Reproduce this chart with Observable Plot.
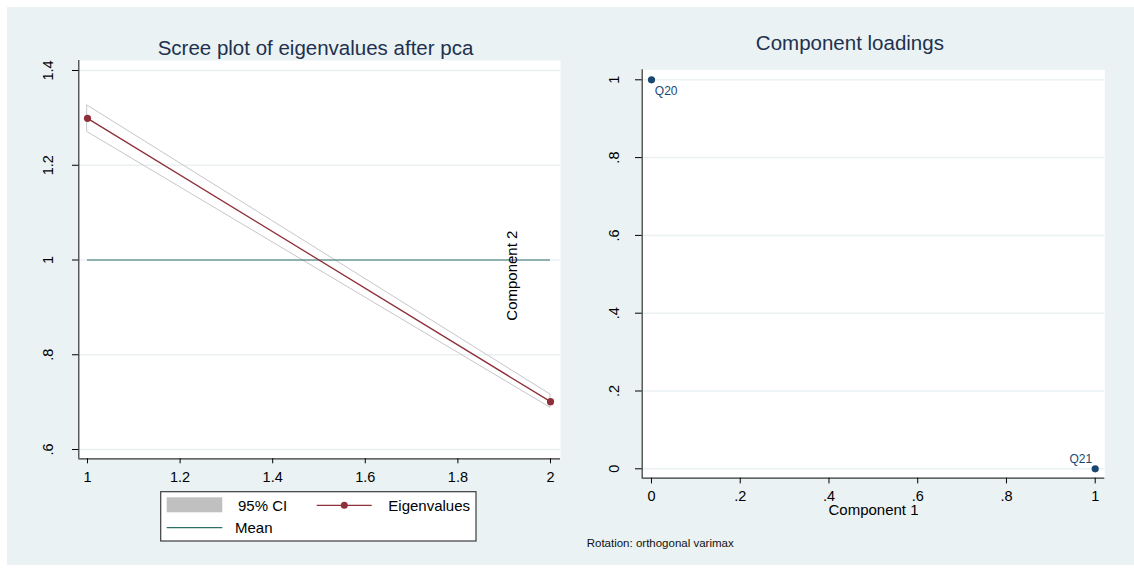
<!DOCTYPE html>
<html>
<head>
<meta charset="utf-8">
<script src="https://cdn.jsdelivr.net/npm/d3@7"></script>
<script src="https://cdn.jsdelivr.net/npm/@observablehq/plot@0.6"></script>
<style>
  html, body { margin: 0; padding: 0; background: #fff; }
  #chart { position: relative; width: 1134px; height: 570px; overflow: hidden;
           font-family: "Liberation Sans", Arial, sans-serif; }
  #panel { position: absolute; left: 7px; top: 7px; width: 1127px; height: 558px; background: #eaf2f3; }
  .abs { position: absolute; white-space: nowrap; line-height: 1; }
  .title { font-size: 20.5px; color: #22304f; transform: translateX(-50%); }
  .note { font-size: 11.5px; color: #111; }
</style>
</head>
<body>
<div id="chart">
  <div id="panel"></div>
  <div class="abs title" style="left:315.5px; top:37.6px;">Scree plot of eigenvalues after pca</div>
  <div class="abs title" style="left:849.9px; top:32.6px;">Component loadings</div>
  <div class="abs note" style="left:586.7px; top:537.7px;">Rotation: orthogonal varimax</div>
</div>
<script>
// ---- scree plot data ----
const components = [1, 2];
const eigenvalues = [1.299, 0.701];
const ciLower = [1.270, 0.688];
const ciUpper = [1.326, 0.716];
const screeXTicks = [1, 1.2, 1.4, 1.6, 1.8, 2];
const screeYTicks = [0.6, 0.8, 1, 1.2, 1.4];
const legendLabels = ["95% CI", "Eigenvalues", "Mean"];

// ---- loading plot data ----
const variables = ["Q20", "Q21"];
const loading1 = [0, 1];
const loading2 = [1, 0];
const loadTicks = [0, 0.2, 0.4, 0.6, 0.8, 1];

// ---- styling ----
const FONT = '"Liberation Sans", Arial, sans-serif';
const GRID = "#eaf1f3";
const AXIS = "#333";
const CI_STROKE = "#c6c6c6";
const CI_FILL = "#c0c0c0";
const EIG = "#8f2f3a";
const MEAN = "#2e6f68";
const NAVY = "#1a476f";

// Stata-style numbers: .8 instead of 0.8
const fmt = d => String(d).replace(/^0\./, ".");

const scree = components.map((c, i) => ({comp: c, eig: eigenvalues[i], lo: ciLower[i], hi: ciUpper[i]}));
const meanEig = d3.mean(eigenvalues);
const loadings = variables.map((v, i) => ({name: v, c1: loading1[i], c2: loading2[i]}));

const baseStyle = {background: "transparent", fontFamily: FONT, fontSize: "14.5px", color: "#000", overflow: "visible"};

// left: scree plot
const screeX = [0.98121, 2.02162];
const screeY = [0.58037, 1.42111];
const left = Plot.plot({
  width: 570, height: 490,
  marginLeft: 78.3, marginTop: 60, marginRight: 10, marginBottom: 31.7,
  style: baseStyle,
  x: {domain: screeX},
  y: {domain: screeY},
  marks: [
    Plot.frame({fill: "#fff", stroke: "none"}),
    Plot.gridY(screeYTicks, {stroke: GRID, strokeOpacity: 1, strokeWidth: 1.5}),
    Plot.areaY(scree, {x: "comp", y1: "lo", y2: "hi", fill: "none", stroke: CI_STROKE, strokeWidth: 1}),
    Plot.ruleY([meanEig], {x1: d3.min(components), x2: d3.max(components), stroke: MEAN, strokeWidth: 1.2}),
    Plot.lineY(scree, {x: "comp", y: "eig", stroke: EIG, strokeWidth: 1.3}),
    Plot.dot(scree, {x: "comp", y: "eig", r: 3.6, fill: EIG}),
    Plot.ruleX([screeX[0]], {stroke: AXIS, strokeWidth: 1.2}),
    Plot.ruleY([screeY[0]], {stroke: AXIS, strokeWidth: 1.2}),
    Plot.axisX(screeXTicks, {tickSize: 5, tickPadding: 8, tickFormat: fmt, label: null}),
    Plot.axisY(screeYTicks, {tickSize: 6.3, tickPadding: 20, tickRotate: -90, tickFormat: fmt, label: null}),
    Plot.text(["Component 2"], {text: d => d, frameAnchor: "right", textAnchor: "middle", lineAnchor: "middle",
      dx: -48, dy: 16, rotate: -90, fontSize: 15, fill: "#000"})
  ]
});
left.style.position = "absolute";
left.style.left = "0px";
left.style.top = "0px";
document.getElementById("chart").appendChild(left);

// right: component loadings
const loadX = [-0.02096, 1.02164];
const loadY = [-0.02416, 1.02571];
const right = Plot.plot({
  width: 564, height: 520,
  marginLeft: 71.7, marginTop: 69.3, marginRight: 29.7, marginBottom: 42.3,
  style: baseStyle,
  x: {domain: loadX},
  y: {domain: loadY},
  marks: [
    Plot.frame({fill: "#fff", stroke: "none"}),
    Plot.gridY(loadTicks, {stroke: GRID, strokeOpacity: 1, strokeWidth: 1.5}),
    Plot.ruleX([loadX[0]], {stroke: AXIS, strokeWidth: 1.2}),
    Plot.ruleY([loadY[0]], {stroke: AXIS, strokeWidth: 1.2}),
    Plot.dot(loadings, {x: "c1", y: "c2", r: 3.6, fill: NAVY}),
    Plot.text(loadings, {filter: d => d.name === variables[0], x: "c1", y: "c2", text: "name",
      textAnchor: "start", dx: 3.3, dy: 11.4, fill: NAVY, fontSize: 12}),
    Plot.text(loadings, {filter: d => d.name === variables[1], x: "c1", y: "c2", text: "name",
      textAnchor: "end", dx: -3, dy: -9.3, fill: NAVY, fontSize: 12}),
    Plot.axisX(loadTicks, {tickSize: 5.7, tickPadding: 6.4, tickFormat: fmt, label: null}),
    Plot.axisY(loadTicks, {tickSize: 6.7, tickPadding: 17, tickRotate: -90, tickFormat: fmt, label: null}),
    Plot.text(["Component 1"], {text: d => d, frameAnchor: "bottom", textAnchor: "middle", lineAnchor: "middle",
      dy: 31.6, fontSize: 15, fill: "#000"})
  ]
});
right.style.position = "absolute";
right.style.left = "570px";
right.style.top = "0px";
document.getElementById("chart").appendChild(right);

// legend of the scree plot
const leg = d3.select("#chart").append("svg")
  .attr("width", 318).attr("height", 52)
  .style("position", "absolute").style("left", "160px").style("top", "491px")
  .style("font-family", FONT).style("font-size", "15px");
leg.append("rect").attr("x", 0.7).attr("y", 0.7).attr("width", 315.3).attr("height", 49.3)
  .attr("fill", "#fff").attr("stroke", "#3c3c3c").attr("stroke-width", 1.2);
leg.append("rect").attr("x", 6.7).attr("y", 6.3).attr("width", 55.6).attr("height", 15).attr("fill", CI_FILL);
leg.append("text").attr("x", 78).attr("y", 20.2).text(legendLabels[0]);
leg.append("line").attr("x1", 156.7).attr("x2", 211.7).attr("y1", 14.3).attr("y2", 14.3)
  .attr("stroke", EIG).attr("stroke-width", 1.3);
leg.append("circle").attr("cx", 184.3).attr("cy", 14.3).attr("r", 3.5).attr("fill", EIG);
leg.append("text").attr("x", 228.3).attr("y", 20.2).text(legendLabels[1]);
leg.append("line").attr("x1", 6.7).attr("x2", 62.3).attr("y1", 36.7).attr("y2", 36.7)
  .attr("stroke", MEAN).attr("stroke-width", 1.2);
leg.append("text").attr("x", 75).attr("y", 42.2).text(legendLabels[2]);
</script>
</body>
</html>
